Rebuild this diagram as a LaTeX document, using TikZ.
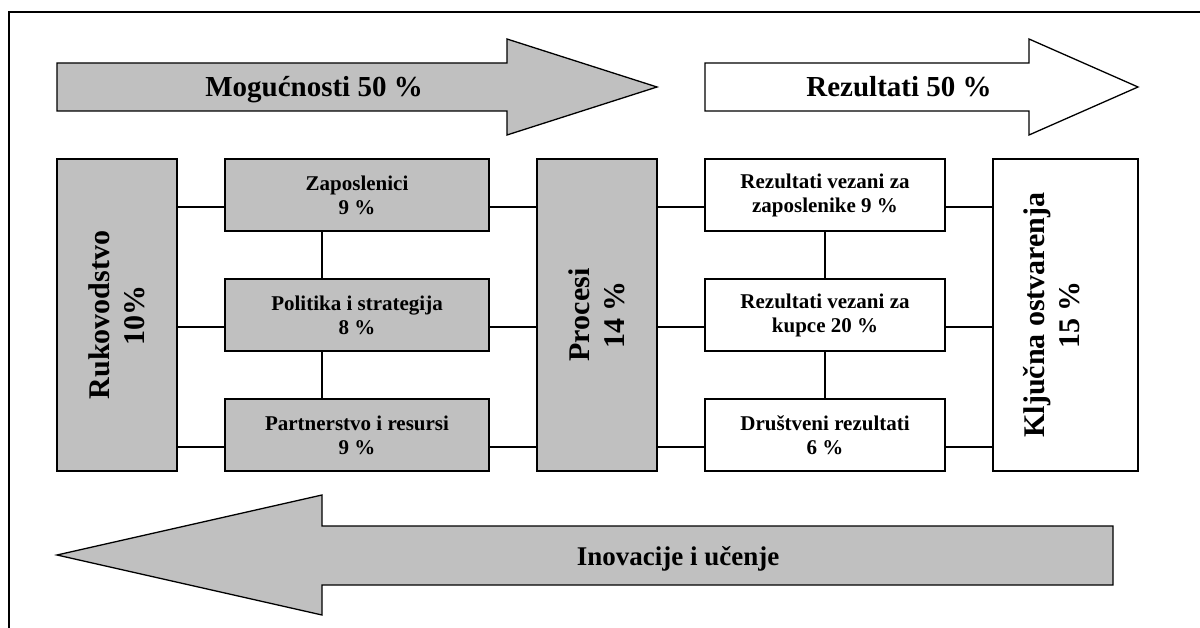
\documentclass[tikz,border=0pt]{standalone}
\usepackage{fontspec}
\setmainfont{Liberation Serif}
\definecolor{boxgray}{HTML}{C0C0C0}
\begin{document}
\begin{tikzpicture}[x=1pt,y=-1pt,
  shapeline/.style={draw=black, line width=1.3pt, line join=miter},
  gbox/.style={shapeline, fill=boxgray, inner sep=0pt, align=center},
  wbox/.style={shapeline, fill=white, inner sep=0pt, align=center},
  smallbox/.style={minimum width=264pt, minimum height=72pt, font=\bfseries\fontsize{21}{24}\selectfont},
  smallboxr/.style={minimum width=240pt, minimum height=72pt, font=\bfseries\fontsize{21}{24}\selectfont},
  tallbox/.style={rotate=90, minimum width=312pt, font=\bfseries\fontsize{30}{35}\selectfont},
  vtext/.style={rotate=90, align=center, inner sep=0pt, font=\bfseries\fontsize{30}{35}\selectfont},
  bigtext/.style={font=\bfseries\fontsize{29}{34}\selectfont, inner sep=0pt},
  conn/.style={draw=black, line width=1.1pt}]
\useasboundingbox (0,0) rectangle (1200,628);
\clip (0,0) rectangle (1200,628);
\draw[line width=1.5pt] (9,12) rectangle (1230,660);

% big arrows
\draw[shapeline, fill=boxgray] (57,63) -- (507,63) -- (507,39) -- (657,87) -- (507,135) -- (507,111) -- (57,111) -- cycle;
\node[bigtext, anchor=base] (mog) at (314,97) {Mogućnosti 50 \%};
\draw[shapeline, fill=white] (705,63) -- (1029,63) -- (1029,39) -- (1138,87) -- (1029,135) -- (1029,111) -- (705,111) -- cycle;
\node[bigtext, anchor=base] (rez) at (899,97) {Rezultati 50 \%};
\draw[shapeline, fill=boxgray] (1113,526) -- (322,526) -- (322,495) -- (57,555) -- (322,615) -- (322,585) -- (1113,585) -- cycle;
\node[bigtext, anchor=base, font=\bfseries\fontsize{27}{32}\selectfont] (ino) at (678,565) {Inovacije i učenje};

% tall boxes (rotated: south = right side, north = left side)
\node[gbox, tallbox, minimum height=120pt] (ruk) at (117,315) {Rukovodstvo\\10\%};
\node[gbox, tallbox, minimum height=120pt] (pro) at (597,315) {Procesi\\14 \%};
\node[wbox, tallbox, minimum height=145pt] (klj) at (1065.5,315) {};
\node[vtext] (kljt) at ([xshift=-14pt]klj.center) {Ključna ostvarenja\\15 \%};

% left column
\node[gbox, smallbox] (zap) at (357,195) {Zaposlenici\\9 \%};
\node[gbox, smallbox] (pol) at (357,315) {Politika i strategija\\8 \%};
\node[gbox, smallbox] (par) at (357,435) {Partnerstvo i resursi\\9 \%};

% right column
\node[wbox, smallboxr] (rzap) at (825,195) {Rezultati vezani za\\zaposlenike 9 \%};
\node[wbox, smallboxr] (rkup) at (825,315) {Rezultati vezani za\\kupce 20 \%};
\node[wbox, smallboxr] (drus) at (825,435) {Društveni rezultati\\6 \%};

% connector anchor points
\foreach \n in {zap,pol,par,rzap,rkup,drus}{
  \coordinate (\n W) at ([yshift=-12pt]\n.west);
  \coordinate (\n E) at ([yshift=-12pt]\n.east);
}
\foreach \n in {zap,pol,par}{
  \draw[conn] (ruk.south |- \n W) -- (\n W);
  \draw[conn] (\n E) -- (pro.north |- \n E);
}
\foreach \n in {rzap,rkup,drus}{
  \draw[conn] (pro.south |- \n W) -- (\n W);
  \draw[conn] (\n E) -- (klj.north |- \n E);
}
\draw[conn] ([xshift=-35pt]zap.south) -- ([xshift=-35pt]pol.north);
\draw[conn] ([xshift=-35pt]pol.south) -- ([xshift=-35pt]par.north);
\draw[conn] (rzap.south) -- (rkup.north);
\draw[conn] (rkup.south) -- (drus.north);
\end{tikzpicture}
\end{document}
